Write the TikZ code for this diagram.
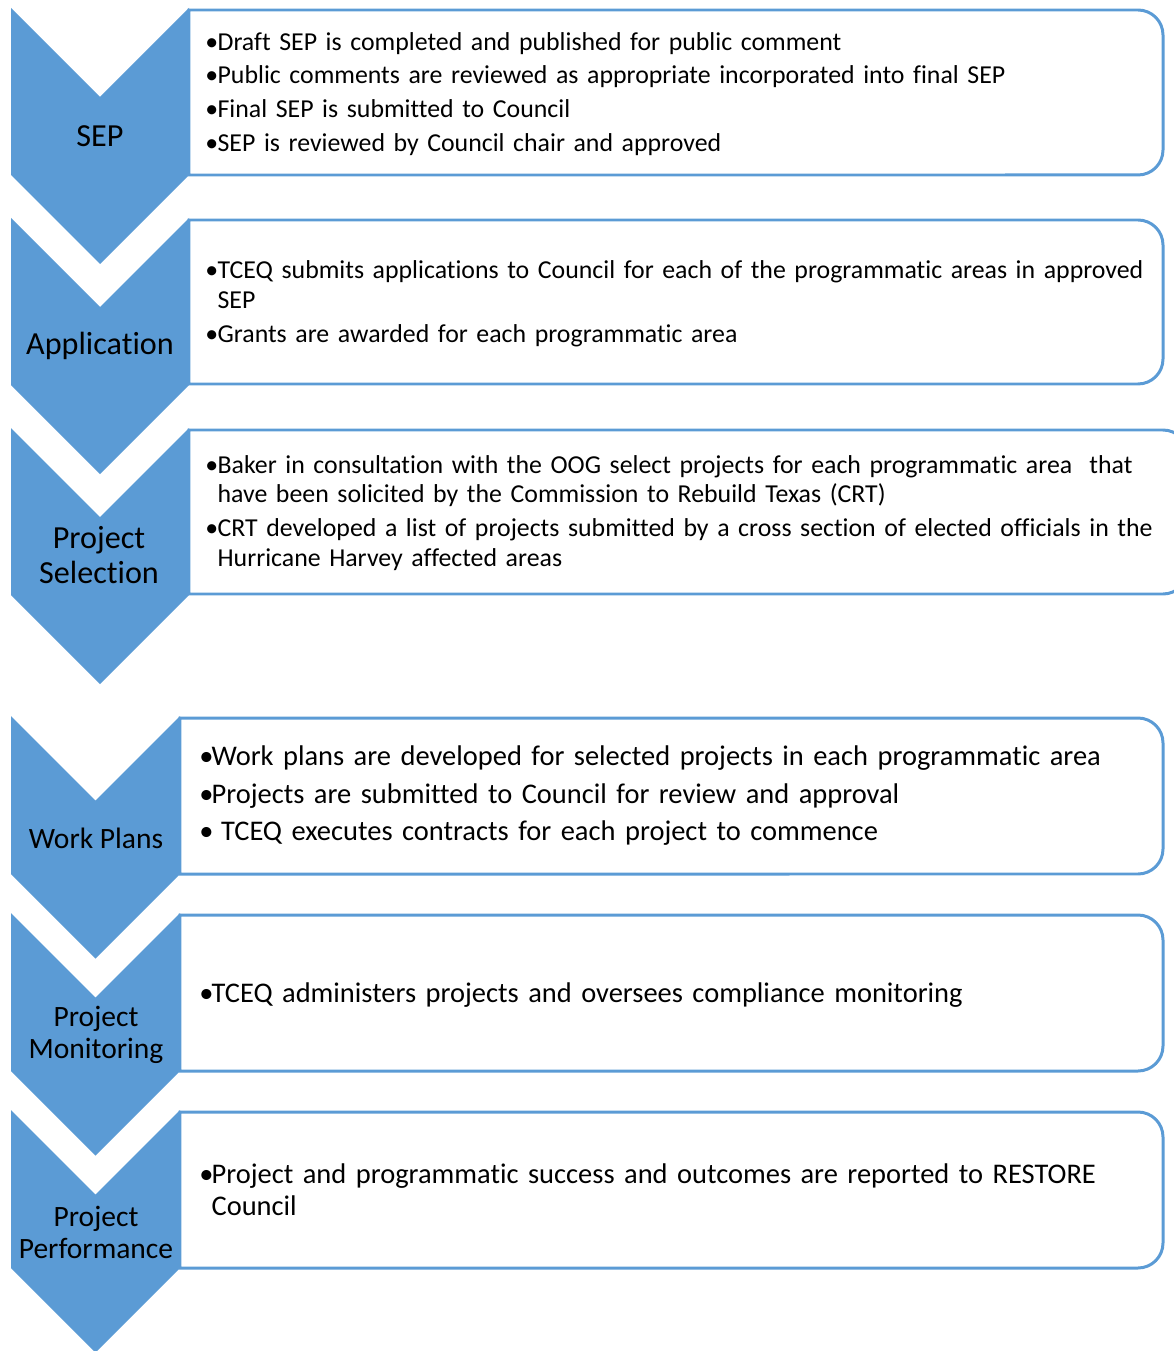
\documentclass[tikz,border=0pt]{standalone}
\usepackage{fontspec}
\setmainfont{Carlito}[Ligatures={NoCommon}]
\definecolor{chevblue}{HTML}{5B9BD5}
\newcommand\itm{\par\hangindent=0.245cm\hangafter=1\noindent\makebox[0.245cm][l]{\textbullet}}
\newcommand\brk{\hfil\break}
\begin{document}
\begin{tikzpicture}[x=0.02cm,y=-0.02cm,
    chev/.style={fill=chevblue},
    boxline/.style={draw=chevblue,line width=1.7pt},
    lab/.style={align=center,inner sep=0pt,font=\fontsize{18.3}{20}\selectfont},
    labsmall/.style={align=center,inner sep=0pt,font=\fontsize{16.8}{18.2}\selectfont},
    txt/.style={anchor=west,align=left,inner sep=0pt,text width=19.6cm,
      font=\fontsize{14.7}{17}\selectfont\setlength\parskip{2.3pt}},
    txtbig/.style={anchor=west,align=left,inner sep=0pt,text width=19.6cm,
      font=\fontsize{16.2}{18.2}\selectfont\setlength\parskip{3pt}}]
  \useasboundingbox (0,0) rectangle (1173,1351);
  % boxes
  \draw[boxline] (189,175) -- (189,10) -- (1138,10) arc[start angle=90,end angle=0,radius=0.5cm]
    -- (1163,150) arc[start angle=0,end angle=-90,radius=0.5cm] -- cycle;
  \draw[boxline] (189,384) -- (189,220) -- (1138,220) arc[start angle=90,end angle=0,radius=0.5cm]
    -- (1163,359) arc[start angle=0,end angle=-90,radius=0.5cm] -- cycle;
  \draw[boxline] (189,594) -- (189,430) -- (1163,430) arc[start angle=90,end angle=0,radius=0.5cm]
    -- (1188,569) arc[start angle=0,end angle=-90,radius=0.5cm] -- cycle;
  \draw[boxline] (180,874) -- (180,718) -- (1138,718) arc[start angle=90,end angle=0,radius=0.5cm]
    -- (1163,849) arc[start angle=0,end angle=-90,radius=0.5cm] -- cycle;
  \draw[boxline] (180,1071) -- (180,915) -- (1138,915) arc[start angle=90,end angle=0,radius=0.5cm]
    -- (1163,1046) arc[start angle=0,end angle=-90,radius=0.5cm] -- cycle;
  \draw[boxline] (180,1268) -- (180,1112) -- (1138,1112) arc[start angle=90,end angle=0,radius=0.5cm]
    -- (1163,1243) arc[start angle=0,end angle=-90,radius=0.5cm] -- cycle;
  % chevrons
  \foreach \t in {8,218,428}
    \fill[chev] (11,\t) -- (100,\t+89) -- (189,\t) -- (189,\t+167) -- (100,\t+256) -- (11,\t+167) -- cycle;
  \foreach \t in {716,913,1110}
    \fill[chev] (11,\t) -- (95.5,\t+84.5) -- (180,\t) -- (180,\t+158) -- (95.5,\t+242.5) -- (11,\t+158) -- cycle;
  % labels
  \node[lab](sep) at (100,136) {SEP};
  \node[lab](app) at (100,346) {Application};
  \node[lab](sel) at (99,555) {Project\\Selection};
  \node[labsmall](work) at (96,838) {Work Plans};
  \node[labsmall](mon) at (96,1035) {Project\\Monitoring};
  \node[labsmall](perf) at (96,1232) {Project\\Performance};
  % texts
  \node[txt](sepText) at (205,86) {\itm Draft SEP is completed and published for public comment
    \itm Public comments are reviewed as appropriate incorporated into final SEP
    \itm Final SEP is submitted to Council
    \itm SEP is reviewed by Council chair and approved\par};
  \node[txt](appText) at (205,296) {\itm TCEQ submits applications to Council for each of the programmatic areas in approved\brk SEP
    \itm Grants are awarded for each programmatic area\par};
  \node[txt](selText) at (205,505) {\itm Baker in consultation with the OOG select projects for each programmatic area\ \ that\brk have been solicited by the Commission to Rebuild Texas (CRT)
    \itm CRT developed a list of projects submitted by a cross section of elected officials in the\brk Hurricane Harvey affected areas\par};
  \node[txtbig](workText) at (199,787) {\itm Work plans are developed for selected projects in each programmatic area
    \itm Projects are submitted to Council for review and approval
    \itm\ TCEQ executes contracts for each project to commence\par};
  \node[txtbig](monText) at (199,986) {\itm TCEQ administers projects and oversees compliance monitoring\par};
  \node[txtbig](perfText) at (199,1181) {\itm Project and programmatic success and outcomes are reported to RESTORE\brk Council\par};
\end{tikzpicture}
\end{document}
